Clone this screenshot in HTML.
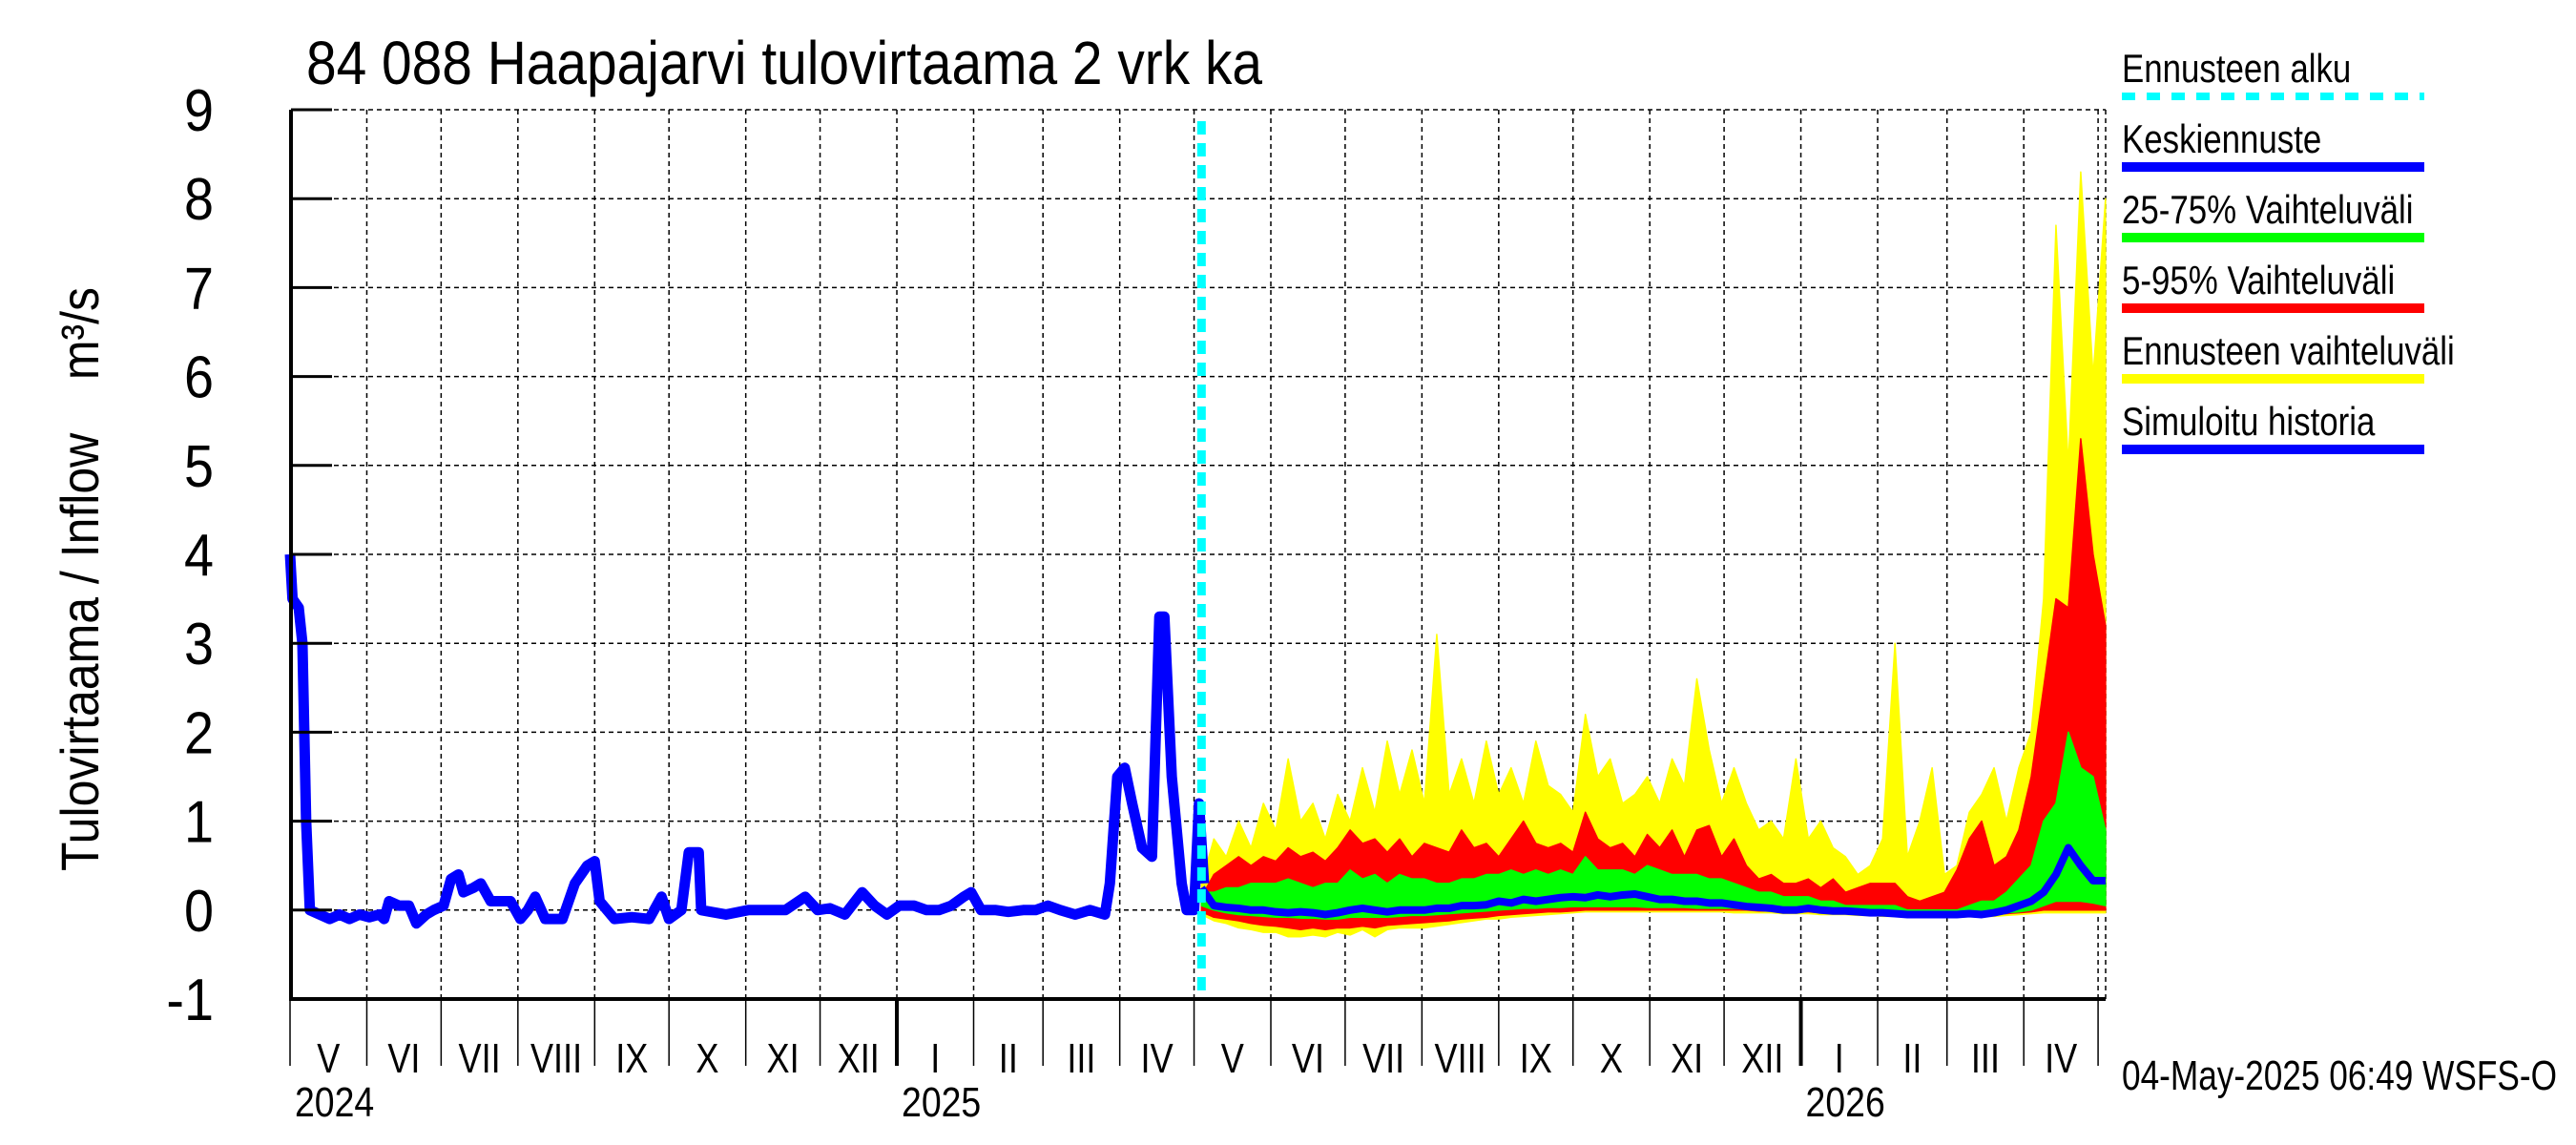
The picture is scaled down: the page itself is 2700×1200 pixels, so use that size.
<!DOCTYPE html>
<html><head><meta charset="utf-8"><style>
html,body{margin:0;padding:0;background:#fff;}
svg{display:block;font-family:"Liberation Sans",sans-serif;}
</style></head><body>
<svg id="chart" width="2700" height="1200" viewBox="0 0 2700 1200" xmlns="http://www.w3.org/2000/svg">
<text id="title" x="321" y="88" font-size="64" textLength="1002" lengthAdjust="spacingAndGlyphs">84 088 Haapajarvi tulovirtaama 2 vrk ka</text>
<text transform="translate(103,607) rotate(-90)" text-anchor="middle" font-size="56" textLength="612" lengthAdjust="spacingAndGlyphs">Tulovirtaama / Inflow&#160;&#160;&#160;&#160;m³/s</text>
<g id="grid"></g>
<g id="bands"></g>
<g id="lines"></g>
<g id="axes"></g>
<g id="legend"></g>
<text x="2224" y="1142" font-size="44" textLength="456" lengthAdjust="spacingAndGlyphs">04-May-2025 06:49 WSFS-O</text>
</svg>
<script>
// ---- data ----
const yTicks = [-1,0,1,2,3,4,5,6,7,8,9];
const monthLabels = ["V","VI","VII","VIII","IX","X","XI","XII","I","II","III","IV","V","VI","VII","VIII","IX","X","XI","XII","I","II","III","IV"];
const monthStartDays = [0,31,61,92,123,153,184,214,245,276,304,335,365,396,426,457,488,518,549,579,610,641,669,700,730];
const yearLabels = ["2024","2025","2026"];
const yearStartDays = [0,245,610];
const forecastStartDay = 368;
const histDays = [0,1,3.5,5,6.5,8,12,16,20,24,28,32,36,38,40,44,48,51,55,58,62,65,68,70,74,77,81,86,89,93,96,99,103,107,110,115,120,123,125,128,131,138,145,150,153,158,161,165,166,170,176,185,193,200,208,213,218,224,231,236,241,246,252,257,262,267,272,275,279,285,290,296,301,306,311,317,323,329,331,334,337,340,344,348,349,351,353,356,360,362,365,367,369];
const histVals = [4.0,3.5,3.4,3.0,1.0,0.0,-0.05,-0.1,-0.05,-0.1,-0.05,-0.08,-0.05,-0.1,0.1,0.05,0.05,-0.15,-0.05,0.0,0.05,0.35,0.4,0.2,0.25,0.3,0.1,0.1,0.1,-0.1,0.0,0.15,-0.1,-0.1,-0.1,0.3,0.5,0.55,0.1,0.0,-0.1,-0.08,-0.1,0.15,-0.1,0.0,0.65,0.65,0.0,-0.02,-0.05,0.0,0.0,0.0,0.15,0.0,0.02,-0.05,0.2,0.05,-0.05,0.05,0.05,0.0,0.0,0.05,0.15,0.2,0.0,0.0,-0.02,0.0,0.0,0.05,0.0,-0.05,0.0,-0.05,0.3,1.5,1.6,1.2,0.7,0.6,1.5,3.3,3.3,1.5,0.3,0.0,0.0,1.2,0.3];
const fStartDay = 368;
const fStepDays = 5;
const yellowHigh = [0.3,0.8,0.6,1.0,0.7,1.2,0.9,1.7,1.0,1.2,0.8,1.3,1.0,1.6,1.1,1.9,1.3,1.8,1.2,3.1,1.3,1.7,1.2,1.9,1.3,1.6,1.2,1.9,1.4,1.3,1.1,2.2,1.5,1.7,1.2,1.3,1.5,1.2,1.7,1.4,2.6,1.8,1.2,1.6,1.2,0.9,1.0,0.8,1.7,0.8,1.0,0.7,0.6,0.4,0.5,0.8,3.0,0.6,1.0,1.6,0.4,0.5,1.1,1.3,1.6,1.0,1.6,2.0,3.5,7.7,5.0,8.3,6.0,8.0];
const yellowLow = [-0.05,-0.12,-0.15,-0.2,-0.22,-0.25,-0.25,-0.3,-0.3,-0.28,-0.3,-0.25,-0.28,-0.22,-0.3,-0.22,-0.2,-0.2,-0.2,-0.18,-0.16,-0.14,-0.12,-0.1,-0.1,-0.08,-0.07,-0.06,-0.05,-0.04,-0.03,-0.02,-0.02,-0.02,-0.02,-0.02,-0.02,-0.02,-0.02,-0.02,-0.02,-0.02,-0.02,-0.03,-0.03,-0.03,-0.03,-0.04,-0.04,-0.04,-0.05,-0.05,-0.05,-0.06,-0.06,-0.07,-0.07,-0.07,-0.07,-0.07,-0.07,-0.07,-0.07,-0.07,-0.07,-0.06,-0.05,-0.04,-0.03,-0.03,-0.03,-0.03,-0.03,-0.03];
const redHigh = [0.15,0.4,0.5,0.6,0.5,0.6,0.55,0.7,0.6,0.65,0.55,0.7,0.9,0.75,0.8,0.65,0.8,0.6,0.75,0.7,0.65,0.9,0.7,0.75,0.6,0.8,1.0,0.75,0.7,0.75,0.65,1.1,0.8,0.7,0.75,0.6,0.85,0.7,0.9,0.6,0.9,0.95,0.6,0.8,0.5,0.35,0.4,0.3,0.3,0.35,0.25,0.35,0.2,0.25,0.3,0.3,0.3,0.15,0.1,0.15,0.2,0.45,0.8,1.0,0.5,0.6,0.9,1.5,2.5,3.5,3.4,5.3,4.0,3.2];
const redLow = [-0.02,-0.08,-0.1,-0.12,-0.15,-0.17,-0.18,-0.2,-0.22,-0.2,-0.22,-0.2,-0.2,-0.18,-0.2,-0.17,-0.16,-0.15,-0.14,-0.13,-0.12,-0.1,-0.09,-0.08,-0.06,-0.05,-0.04,-0.03,-0.02,-0.02,-0.01,0,0,0,0,0,0,0,0,0,0,0,0,0,0,-0.01,-0.01,-0.02,-0.02,-0.02,-0.03,-0.03,-0.03,-0.04,-0.04,-0.05,-0.05,-0.05,-0.05,-0.05,-0.05,-0.05,-0.05,-0.05,-0.05,-0.04,-0.03,-0.02,0,0,0,0,0,0];
const greenHigh = [0.2,0.2,0.25,0.25,0.3,0.3,0.3,0.35,0.3,0.25,0.3,0.3,0.45,0.35,0.4,0.3,0.4,0.35,0.35,0.3,0.3,0.35,0.35,0.4,0.4,0.45,0.4,0.45,0.4,0.45,0.4,0.6,0.45,0.45,0.45,0.4,0.5,0.45,0.4,0.4,0.4,0.35,0.35,0.3,0.25,0.2,0.2,0.15,0.15,0.15,0.1,0.1,0.05,0.05,0.05,0.05,0.05,0.0,0.0,0.0,0.0,0.0,0.05,0.1,0.1,0.2,0.35,0.5,1.0,1.2,2.0,1.6,1.5,0.9];
const greenLow = [0.05,0.0,-0.03,-0.05,-0.06,-0.07,-0.08,-0.08,-0.09,-0.09,-0.1,-0.1,-0.08,-0.08,-0.08,-0.08,-0.07,-0.06,-0.06,-0.05,-0.04,-0.03,-0.02,-0.01,0,0.01,0.02,0.02,0.03,0.03,0.04,0.04,0.04,0.04,0.04,0.04,0.03,0.03,0.03,0.03,0.02,0.02,0.02,0.02,0.01,0.01,0.0,0.0,-0.01,-0.01,-0.02,-0.02,-0.03,-0.03,-0.04,-0.04,-0.05,-0.05,-0.05,-0.05,-0.05,-0.05,-0.05,-0.05,-0.04,-0.03,-0.02,0.0,0.05,0.1,0.1,0.1,0.08,0.05];
const median = [0.25,0.05,0.03,0.02,0.0,0.0,-0.02,-0.03,-0.02,-0.03,-0.05,-0.03,0.0,0.02,0.0,-0.02,0.0,0.0,0.0,0.02,0.02,0.05,0.05,0.06,0.1,0.08,0.12,0.1,0.12,0.14,0.15,0.14,0.17,0.15,0.17,0.18,0.15,0.12,0.12,0.1,0.1,0.08,0.08,0.06,0.04,0.03,0.02,0.0,0.0,0.02,0.0,-0.01,-0.01,-0.02,-0.03,-0.03,-0.04,-0.05,-0.05,-0.05,-0.05,-0.05,-0.04,-0.05,-0.03,0.0,0.05,0.1,0.2,0.4,0.7,0.5,0.33,0.33];

// ---- scales ----
const X0=304, PXD=2.596, LEFT=305, RIGHT=2207, TOP=115, BOT=1047;
const xs = d => X0 + d*PXD;
const ys = v => TOP + (9-v)*(BOT-TOP)/10;
const NS="http://www.w3.org/2000/svg";
function mk(parent, tag, attrs){const e=document.createElementNS(NS,tag);for(const k in attrs)e.setAttribute(k,attrs[k]);parent.appendChild(e);return e;}
function condense(el,f){const w=el.getComputedTextLength();if(w>0){el.setAttribute('textLength',(w*f).toFixed(1));el.setAttribute('lengthAdjust','spacingAndGlyphs');}}
const grid=document.getElementById('grid'), bands=document.getElementById('bands'), lines=document.getElementById('lines'), axes=document.getElementById('axes'), legend=document.getElementById('legend');

// grid
yTicks.forEach(v=>{
  const l=mk(grid,'line',{x1:LEFT,x2:RIGHT,y1:ys(v),y2:ys(v),stroke:'#000','stroke-width':1.5,'stroke-dasharray':'5,4'});
  
  
});
monthStartDays.forEach(d=>{
  const l=mk(grid,'line',{x1:xs(d),x2:xs(d),y1:TOP,y2:BOT,stroke:'#000','stroke-width':1.5,'stroke-dasharray':'5,4'});
  
  
});
const rg=mk(grid,'line',{x1:RIGHT,x2:RIGHT,y1:TOP,y2:BOT,stroke:'#000','stroke-width':1.5,'stroke-dasharray':'5,4'});



// bands
function band(hi,lo,color,name){
  let pts=[];
  hi.forEach((v,i)=>pts.push(xs(fStartDay+i*fStepDays)+','+ys(v)));
  for(let i=lo.length-1;i>=0;i--) pts.push(xs(fStartDay+i*fStepDays)+','+ys(lo[i]));
  const p=mk(bands,'polygon',{points:pts.join(' '),fill:color,stroke:color,'stroke-width':1.5,'stroke-linejoin':'round'});
  
  
}
band(yellowHigh,yellowLow,'#ffff00','band-ensemble-range');
band(redHigh,redLow,'#ff0000','band-5-95');
band(greenHigh,greenLow,'#00ff00','band-25-75');

// median line
const mp=mk(lines,'polyline',{points:median.map((v,i)=>xs(fStartDay+i*fStepDays)+','+ys(v)).join(' '),fill:'none',stroke:'#0000ff','stroke-width':8,'stroke-linejoin':'round'});


// history line
const hp=mk(lines,'polyline',{points:histVals.map((v,i)=>xs(histDays[i])+','+ys(v)).join(' '),fill:'none',stroke:'#0000ff','stroke-width':11,'stroke-linejoin':'round'});


// forecast start
const fl=mk(lines,'line',{x1:xs(forecastStartDay),x2:xs(forecastStartDay),y1:TOP+12,y2:BOT,stroke:'#00ffff','stroke-width':9,'stroke-dasharray':'14,9'});



// axes
const ya=mk(axes,'line',{x1:LEFT,x2:LEFT,y1:TOP,y2:BOT,stroke:'#000','stroke-width':4});


const xa=mk(axes,'line',{x1:LEFT-2,x2:RIGHT,y1:BOT,y2:BOT,stroke:'#000','stroke-width':4});


yTicks.forEach(v=>{
  const t=mk(axes,'line',{x1:LEFT,x2:LEFT+43,y1:ys(v),y2:ys(v),stroke:'#000','stroke-width':3});
  
  
  const tx=mk(axes,'text',{x:224,y:ys(v)+22,'text-anchor':'end','font-size':62});
  tx.textContent=String(v);
  
  
  condense(tx,0.9);
});
monthStartDays.forEach((d,i)=>{
  const isYear=yearStartDays.includes(d)&&d>0;
  const t=mk(axes,'line',{x1:xs(d),x2:xs(d),y1:BOT,y2:1117,stroke:'#000','stroke-width':isYear?4:1.5});
  
  
  if(i<monthLabels.length){
    const tx=mk(axes,'text',{x:(xs(d)+xs(monthStartDays[i+1]))/2,y:1124,'text-anchor':'middle','font-size':44});
    tx.textContent=monthLabels[i];
    
    
    condense(tx,0.82);
  }
});
yearLabels.forEach((y,i)=>{
  const tx=mk(axes,'text',{x:xs(yearStartDays[i])+5,y:1170,'font-size':44});
  tx.textContent=y;
  
  
  condense(tx,0.85);
});

// legend
const legItems=["Ennusteen alku","Keskiennuste","25-75% Vaihteluväli","5-95% Vaihteluväli","Ennusteen vaihteluväli","Simuloitu historia"];
const legColors=["#00ffff","#0000ff","#00ff00","#ff0000","#ffff00","#0000ff"];
legItems.forEach((s,i)=>{
  const y0=86+i*74;
  const tx=mk(legend,'text',{x:2224,y:y0,'font-size':42});
  tx.textContent=s;
  
  
  condense(tx,0.83);
  const attrs={x1:2224,x2:2541,y1:y0+15,y2:y0+15,stroke:legColors[i],'stroke-width':i==0?8:10};
  if(i==0) attrs['stroke-dasharray']='14,12';
  const l=mk(legend,'line',attrs);
  
  
});
</script>
</body></html>
